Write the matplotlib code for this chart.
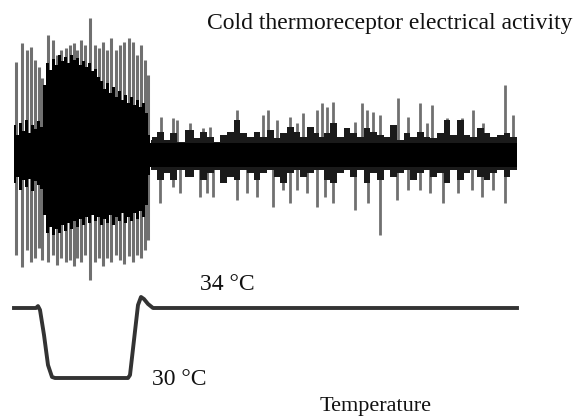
import numpy as np
import matplotlib
matplotlib.use("Agg")
import matplotlib.pyplot as plt

# nerve recording, amplitude in arbitrary units (0 = baseline)
# burst phase: dense core envelope
burst_t = [14, 17, 20, 23, 26, 29, 32, 35, 38, 41, 44, 47, 50, 53, 56, 59, 62, 65,
           68, 71, 74, 77, 80, 83, 86, 89, 92, 95, 98, 101, 104, 107, 110, 113,
           116, 119, 122, 125, 128, 131, 134, 137, 140, 143, 146, 149, 151]
burst_up = [30, 20, 32, 24, 35, 22, 30, 26, 34, 28, 70, 92, 85, 96, 90, 100, 94,
            98, 92, 100, 95, 97, 90, 94, 88, 92, 84, 86, 78, 74, 66, 72, 62, 68,
            58, 64, 55, 60, 52, 58, 50, 55, 48, 52, 42, 20, 12]
burst_lo = [-28, -22, -35, -25, -32, -24, -36, -26, -30, -34, -60, -78, -72, -80,
            -74, -78, -70, -76, -68, -74, -66, -72, -64, -70, -62, -68, -60, -66,
            -62, -70, -64, -68, -60, -70, -62, -66, -58, -68, -62, -66, -58, -64,
            -56, -62, -50, -20, -12]

# burst phase: large single spikes (time, top, bottom)
bspike_t = [16, 22, 27, 31, 35, 39, 42, 48, 53, 57, 61, 66, 70, 74, 77, 81, 85,
            90, 95, 99, 103, 107, 111, 116, 120, 124, 129, 133, 137, 141, 145, 148]
bspike_top = [93, 112, 105, 108, 95, 88, 77, 120, 115, 100, 105, 107, 110, 112,
              105, 115, 110, 137, 110, 107, 113, 105, 117, 105, 110, 113, 117,
              113, 100, 110, 95, 80]
bspike_bot = [-100, -112, -95, -107, -103, -93, -105, -107, -100, -110, -103,
              -107, -105, -111, -103, -107, -100, -125, -107, -103, -111, -103,
              -107, -100, -105, -109, -101, -107, -100, -103, -95, -85]

# steady phase: core envelope
steady_t = [151, 153, 160, 167, 173, 180, 190, 197, 203, 210, 217, 223, 230, 237,
            243, 250, 257, 263, 270, 277, 283, 290, 297, 303, 310, 317, 320, 327,
            333, 340, 347, 353, 360, 367, 373, 380, 387, 393, 400, 407, 413, 420,
            427, 433, 440, 447, 453, 460, 467, 473, 480, 487, 493, 500, 507, 513,
            517]
steady_up = [15, 18, 23, 15, 22, 13, 25, 17, 23, 18, 13, 20, 23, 35, 22, 18, 23,
             18, 25, 17, 22, 28, 23, 18, 28, 22, 18, 22, 32, 18, 27, 22, 18, 27,
             23, 20, 18, 30, 15, 22, 18, 23, 18, 17, 22, 35, 20, 35, 20, 18, 27,
             22, 18, 20, 22, 18, 18]
steady_lo = [-15, -15, -25, -18, -25, -15, -22, -15, -25, -18, -15, -28, -22, -25,
             -15, -18, -25, -18, -15, -22, -28, -18, -15, -22, -18, -15, -15, -25,
             -28, -18, -15, -22, -15, -28, -18, -25, -15, -22, -18, -15, -25, -18,
             -15, -22, -18, -28, -15, -25, -18, -15, -22, -25, -18, -15, -22, -15,
             -15]

# steady phase: upward and downward spikes
up_t = [161, 173, 177, 190, 203, 210, 237, 263, 268, 277, 290, 297, 303, 317, 322,
        327, 333, 355, 362, 367, 373, 380, 398, 408, 420, 427, 432, 447, 462, 473,
        483, 505, 513]
up_top = [38, 37, 35, 32, 27, 28, 45, 40, 45, 35, 38, 32, 42, 45, 52, 48, 53, 33,
          52, 45, 43, 40, 57, 38, 52, 32, 50, 37, 37, 45, 32, 70, 40]
down_t = [160, 173, 180, 200, 207, 213, 237, 247, 257, 273, 283, 290, 297, 307,
          317, 325, 333, 355, 368, 380, 397, 408, 420, 430, 443, 458, 472, 482,
          493, 505]
down_bot = [-48, -32, -38, -42, -38, -42, -45, -38, -42, -52, -35, -48, -35, -38,
            -52, -42, -48, -55, -48, -80, -45, -35, -35, -38, -48, -38, -35, -42,
            -35, -48]

# bath temperature (deg C)
temp_t = [14, 36, 38, 40, 44, 48, 52, 55, 128, 130, 134, 138, 141, 144, 148, 153, 517]
temp_c = [34.0, 34.0, 34.11, 33.89, 32.46, 30.74, 30.06, 30.0, 30.0, 30.17, 32.17,
          34.17, 34.63, 34.51, 34.23, 34.0, 34.0]

W, H = 579, 419
fig = plt.figure(figsize=(W / 100, H / 100), dpi=100)

ax = fig.add_axes([0, 1 - 290 / H, 1, 290 / H])
ax.set_xlim(0, W)
ax.set_ylim(-135, 155)
ax.axis("off")

spike_col = "#707070"
ax.vlines(bspike_t, bspike_bot, bspike_top, color=spike_col, lw=2.2, zorder=1)
ax.vlines(up_t, 0, up_top, color=spike_col, lw=2.0, zorder=1)
ax.vlines(down_t, down_bot, 0, color=spike_col, lw=2.0, zorder=1)
ax.fill_between(burst_t, burst_lo, burst_up, step="mid", color="black", lw=0,
                zorder=3)
ax.fill_between(steady_t, steady_lo, steady_up, step="mid", color="#1a1a1a",
                lw=0, zorder=3)
ax.fill_between(steady_t, -12, 12, color="black", lw=0, zorder=4)

tx = fig.add_axes([0, 0, 1, 169 / H])
tx.set_xlim(0, W)
tx.set_ylim(34 - 111 / 17.5, 34 + 58 / 17.5)
tx.axis("off")
tx.plot(temp_t, temp_c, color="#333333", lw=2.8, solid_joinstyle="round")

font = dict(family="Liberation Serif", fontsize=17, color="#111111")
fig.text(207 / W, 1 - 23 / H, "Cold thermoreceptor electrical activity",
         ha="left", va="center", **font)
fig.text(200 / W, 1 - 284 / H, "34 °C", ha="left", va="center", **font)
fig.text(152 / W, 1 - 379 / H, "30 °C", ha="left", va="center", **font)
fig.text(320 / W, 1 - 406 / H, "Temperature", ha="left", va="center",
         **dict(font, fontsize=16))

fig.savefig("out.png", dpi=100)
